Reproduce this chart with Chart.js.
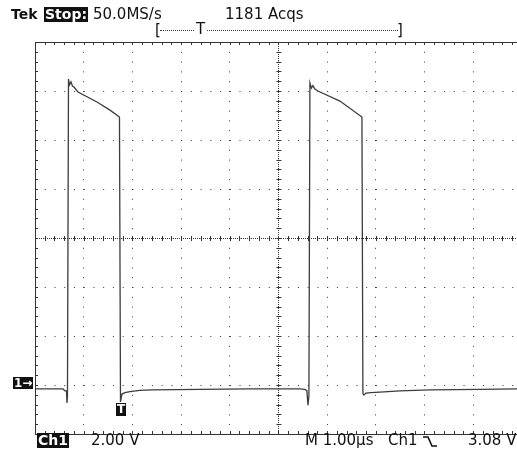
<!DOCTYPE html>
<html>
<head>
<meta charset="utf-8">
<script src="https://cdn.jsdelivr.net/npm/chart.js@4.4.1/dist/chart.umd.min.js"></script>
<style>
  body { margin: 0; background: #fff; }
  #wrap { position: relative; width: 517px; height: 454px; overflow: hidden; font-family: "DejaVu Sans", sans-serif; font-size: 15px; color: #111; }
  #scope { position: absolute; left: 0; top: 0; }
  .lbl { position: absolute; line-height: 15px; white-space: nowrap; }
  .inv { background: #111; color: #fff; padding: 0 1px; font-weight: bold; font-size: 14px; }
</style>
</head>
<body>
<div id="wrap">
  <canvas id="scope" width="517" height="454"></canvas>

  <div class="lbl" style="left:11px;top:7px;font-weight:bold;font-size:14px">Tek</div>
  <div class="lbl inv" style="left:44px;top:7px">Stop:</div>
  <div class="lbl" style="left:93px;top:7px">50.0MS/s</div>
  <div class="lbl" style="left:225px;top:7px">1181 Acqs</div>

  <div class="lbl" style="left:155px;top:23px">[</div>
  <div style="position:absolute;left:160px;top:30px;width:238px;border-top:1px dotted #333"></div>
  <div class="lbl" style="left:195px;top:22px;background:#fff;padding:0 1px">T</div>
  <div class="lbl" style="left:397px;top:23px">]</div>

  <div class="lbl inv" style="left:13px;top:377px;font-size:12px;line-height:12px">1&#8594;</div>
  <div class="lbl inv" style="left:116px;top:403px;font-size:12px;line-height:13px">T</div>

  <div class="lbl inv" style="left:37px;top:433px">Ch1</div>
  <div class="lbl" style="left:91px;top:433px">2.00 V</div>
  <div class="lbl" style="left:305px;top:433px">M 1.00µs</div>
  <div class="lbl" style="left:388px;top:433px">Ch1</div>
  <svg style="position:absolute;left:422px;top:436px" width="16" height="12"><polyline points="1,1 6,1 10,10 15,10" fill="none" stroke="#111" stroke-width="1.6"/></svg>
  <div class="lbl" style="left:468px;top:433px">3.08 V</div>
</div>

<script>
// time in µs from the left edge of the screen, Ch1 in volts
const timeUs = [
  0, 0.575, 0.616, 0.647, 0.657, 0.667, 0.688, 0.708, 0.739, 0.770, 0.800, 0.883,
  1.273, 1.540, 1.735, 1.756, 1.786, 1.848, 1.950, 2.150, 2.400, 3.388, 4.415,
  5.441, 5.544, 5.585, 5.606, 5.626, 5.647, 5.678, 5.708, 5.749, 5.811, 6.263,
  6.715, 6.735, 6.756, 6.797, 6.900, 7.084, 7.495, 8.111, 9.138, 9.900
];
const ch1Volts = [
  -0.16, -0.16, -0.24, -0.24, -0.73, -0.45, 12.49, 12.25, 12.37, 12.20, 12.16, 11.96,
  11.55, 11.22, 10.94, -0.69, -0.37, -0.31, -0.27, -0.22, -0.20, -0.18, -0.16,
  -0.16, -0.18, -0.24, -0.82, -0.45, 12.33, 12.12, 12.22, 12.08, 12.00, 11.59,
  10.94, -0.35, -0.41, -0.33, -0.31, -0.29, -0.24, -0.20, -0.18, -0.16
];

const voltsPerDiv = 2;
const timeMin = 0, timeMax = 9.9;    // screen is cut a bit before 10 divisions
const voltMin = -2, voltMax = 14;    // ground marker sits one division above the bottom

const tekFrame = {
  id: 'tekFrame',
  afterDraw(chart) {
    const ctx = chart.ctx;
    const x = chart.scales.x, y = chart.scales.y;
    const L = x.getPixelForValue(timeMin), R = x.getPixelForValue(timeMax);
    const T = y.getPixelForValue(voltMax), B = y.getPixelForValue(voltMin);
    const cx = x.getPixelForValue(5), cy = y.getPixelForValue(6);
    ctx.save();
    ctx.strokeStyle = '#333';
    ctx.lineWidth = 1;
    // frame
    ctx.beginPath();
    ctx.moveTo(R, T + 0.5); ctx.lineTo(L + 0.5, T + 0.5); ctx.lineTo(L + 0.5, B + 0.5); ctx.lineTo(R, B + 0.5);
    ctx.stroke();
    // centre cross, dense dots
    ctx.setLineDash([1, 1]);
    ctx.beginPath();
    ctx.moveTo(L, Math.round(cy) + 0.5); ctx.lineTo(R, Math.round(cy) + 0.5);
    ctx.moveTo(Math.round(cx) + 0.5, T); ctx.lineTo(Math.round(cx) + 0.5, B);
    ctx.stroke();
    ctx.setLineDash([]);
    // minor ticks, 5 per division
    ctx.beginPath();
    for (let t = timeMin; t <= timeMax + 1e-6; t += 0.2) {
      const px = Math.round(x.getPixelForValue(t)) + 0.5;
      ctx.moveTo(px, T); ctx.lineTo(px, T + 3);
      ctx.moveTo(px, B); ctx.lineTo(px, B - 3);
      ctx.moveTo(px, cy - 2); ctx.lineTo(px, cy + 3);
    }
    for (let v = voltMin; v <= voltMax + 1e-6; v += voltsPerDiv / 5) {
      const py = Math.round(y.getPixelForValue(v)) + 0.5;
      ctx.moveTo(L, py); ctx.lineTo(L + 3, py);
      ctx.moveTo(cx - 2, py); ctx.lineTo(cx + 3, py);
    }
    ctx.stroke();
    ctx.restore();
  }
};

new Chart(document.getElementById('scope'), {
  type: 'line',
  data: {
    datasets: [{
      data: timeUs.map((t, i) => ({ x: t, y: ch1Volts[i] })),
      borderColor: '#3c3c3c',
      borderWidth: 1.3,
      pointRadius: 0,
      tension: 0,
      fill: false
    }]
  },
  options: {
    responsive: false,
    animation: false,
    layout: { padding: { left: 35, top: 42, right: 0, bottom: 20 } },
    plugins: { legend: { display: false }, tooltip: { enabled: false } },
    scales: {
      x: {
        type: 'linear', min: timeMin, max: timeMax,
        ticks: { display: false, stepSize: 1, includeBounds: false },
        grid: { color: '#333', lineWidth: 1, drawTicks: false },
        border: { display: false, dash: [1, 8.8] }
      },
      y: {
        min: voltMin, max: voltMax,
        ticks: { display: false, stepSize: voltsPerDiv, includeBounds: false },
        grid: { color: '#333', lineWidth: 1, drawTicks: false },
        border: { display: false, dash: [1, 8.74] }
      }
    }
  },
  plugins: [tekFrame]
});
</script>
</body>
</html>
